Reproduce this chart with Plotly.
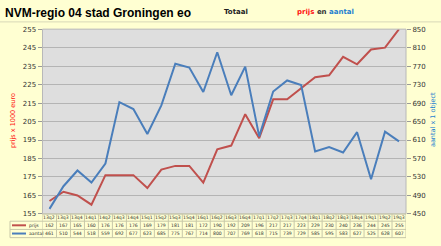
import plotly.graph_objects as go

quarters = ["13q2","13q3","13q4","14q1","14q2","14q3","14q4","15q1","15q2","15q3","15q4",
            "16q1","16q2","16q3","16q4","17q1","17q2","17q3","17q4","18q1","18q2","18q3",
            "18q4","19q1","19q2","19q3"]
prijs = [162,167,165,160,176,176,176,169,179,181,181,172,190,192,209,196,217,217,223,229,230,240,236,244,245,255]
aantal = [461,510,544,518,559,692,677,623,685,775,767,714,800,707,769,618,715,739,729,585,595,583,627,525,628,607]
left_ticks = [155,165,175,185,195,205,215,225,235,245,255]
right_ticks = [450,490,530,570,610,650,690,730,770,810,850]

W, H = 441, 246
RED = "#C0504D"
BLUE = "#4A7EBB"
BG = "#FFFFD2"
GRID = "#B4B4B4"
BORDER = "#C8C8A8"
TXT = "#333333"

PL, PR, PT, PB = 42.5, 406, 26, 217

def px_x(p):
    return p / W

def px_y(p):
    return 1 - p / H

xs = list(range(len(quarters)))

fig = go.Figure()
fig.add_trace(go.Scatter(x=xs, y=prijs, mode="lines", line=dict(color=RED, width=2),
                         name="prijs", yaxis="y", showlegend=False))
fig.add_trace(go.Scatter(x=xs, y=aantal, mode="lines", line=dict(color=BLUE, width=2),
                         name="aantal", yaxis="y2", showlegend=False))

fig.update_layout(
    width=W, height=H,
    margin=dict(l=0, r=0, t=0, b=0),
    paper_bgcolor=BG,
    plot_bgcolor="#DEDEDE",
    font=dict(family="DejaVu Sans", size=7, color=TXT),
    xaxis=dict(domain=[px_x(PL), px_x(PR)], range=[-0.5, len(quarters) - 0.5],
               showticklabels=False, showgrid=False, zeroline=False, ticks=""),
    yaxis=dict(domain=[px_y(PB), px_y(PT)], range=[155, 255], tickvals=left_ticks,
               showgrid=True, gridcolor=GRID, gridwidth=1.2, zeroline=False,
               ticks="outside", ticklen=4, tickcolor="#999999",
               tickfont=dict(size=7, color=TXT, family="DejaVu Sans")),
    yaxis2=dict(overlaying="y", side="right", range=[450, 850], tickvals=right_ticks,
                showgrid=False, zeroline=False, ticks="outside", ticklen=4, tickcolor="#999999",
                tickfont=dict(size=7, color=TXT, family="DejaVu Sans")),
)

shapes = []
shapes.append(dict(type="line", xref="paper", yref="paper", x0=0, x1=1,
                   y0=px_y(18.5), y1=px_y(18.5), line=dict(color="#D8D8B8", width=1)))
shapes.append(dict(type="rect", xref="paper", yref="paper", x0=px_x(PL), x1=px_x(PR),
                   y0=px_y(PB), y1=px_y(PT), line=dict(color="#B8B8B8", width=1)))

row_edges = [PB, 224.5, 233, 241.5]
row_centers = [(row_edges[i] + row_edges[i + 1]) / 2 for i in range(3)]
n = len(quarters)
for i in range(n + 1):
    shapes.append(dict(type="line", xref="x", yref="paper", x0=i - 0.5, x1=i - 0.5,
                       y0=px_y(row_edges[0]), y1=px_y(row_edges[3]),
                       line=dict(color=BORDER, width=1)))
for k, e in enumerate(row_edges):
    shapes.append(dict(type="line", xref="paper", yref="paper",
                       x0=px_x(PL if k == 0 else 10), x1=px_x(PR),
                       y0=px_y(e), y1=px_y(e), line=dict(color=BORDER, width=1)))
shapes.append(dict(type="line", xref="paper", yref="paper", x0=px_x(10), x1=px_x(10),
                   y0=px_y(row_edges[1]), y1=px_y(row_edges[3]), line=dict(color=BORDER, width=1)))
for rc, col in [(row_centers[1], RED), (row_centers[2], BLUE)]:
    shapes.append(dict(type="line", xref="paper", yref="paper", x0=px_x(12), x1=px_x(26),
                       y0=px_y(rc), y1=px_y(rc), line=dict(color=col, width=2)))
fig.update_layout(shapes=shapes)

ann = []
tf = dict(size=4.6, color=TXT, family="DejaVu Sans")
for i, q in enumerate(quarters):
    ann.append(dict(x=i, y=px_y(row_centers[0]), xref="x", yref="paper", text=q,
                    showarrow=False, font=tf, xanchor="center", yanchor="middle"))
    ann.append(dict(x=i, y=px_y(row_centers[1]), xref="x", yref="paper", text=str(prijs[i]),
                    showarrow=False, font=tf, xanchor="center", yanchor="middle"))
    ann.append(dict(x=i, y=px_y(row_centers[2]), xref="x", yref="paper", text=str(aantal[i]),
                    showarrow=False, font=tf, xanchor="center", yanchor="middle"))
ann.append(dict(x=px_x(27), y=px_y(row_centers[1]), xref="paper", yref="paper", text="prijs",
                showarrow=False, font=tf, xanchor="left", yanchor="middle"))
ann.append(dict(x=px_x(27), y=px_y(row_centers[2]), xref="paper", yref="paper", text="aantal",
                showarrow=False, font=tf, xanchor="left", yanchor="middle"))

ann.append(dict(x=px_x(3), y=px_y(9.5), xref="paper", yref="paper",
                text="<b>NVM-regio 04 stad Groningen eo</b>", showarrow=False,
                font=dict(size=12, color="#000000", family="Liberation Sans"),
                xanchor="left", yanchor="middle"))
ann.append(dict(x=px_x(222), y=px_y(8), xref="paper", yref="paper", text="<b>Totaal</b>",
                showarrow=False, font=dict(size=7, color="#222222", family="DejaVu Sans"),
                xanchor="left", yanchor="middle"))
ann.append(dict(x=px_x(295), y=px_y(8), xref="paper", yref="paper",
                text="<b><span style='color:#FF1010'>prijs</span> <span style='color:#333333'>en</span> <span style='color:#1F7FD0'>aantal</span></b>",
                showarrow=False, font=dict(size=7, family="DejaVu Sans"),
                xanchor="left", yanchor="middle"))
ann.append(dict(x=px_x(13), y=px_y(121), xref="paper", yref="paper", text="prijs x 1000 euro",
                showarrow=False, textangle=-90, font=dict(size=6.5, color="#FF1010", family="DejaVu Sans"),
                xanchor="center", yanchor="middle"))
ann.append(dict(x=px_x(433), y=px_y(120), xref="paper", yref="paper", text="aantal x 1 object",
                showarrow=False, textangle=-90, font=dict(size=6.5, color="#1F7FD0", family="DejaVu Sans"),
                xanchor="center", yanchor="middle"))
fig.update_layout(annotations=ann)

fig.write_html("out.html")
